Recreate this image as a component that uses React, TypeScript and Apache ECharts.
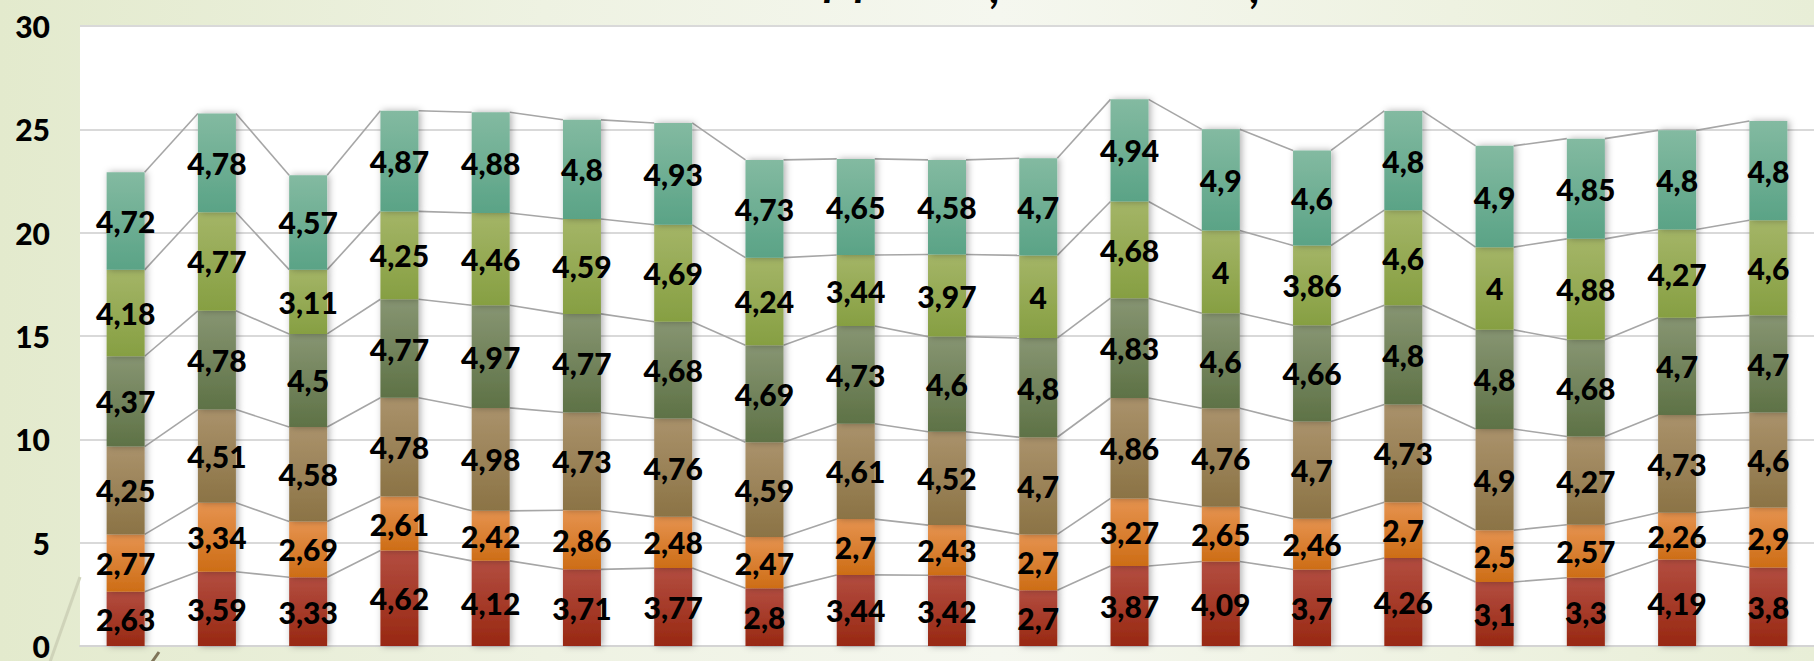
import React, { useEffect, useRef } from "react";
import * as echarts from "echarts";

const categories = ["1","2","3","4","5","6","7","8","9","10","11","12","13","14","15","16","17","18","19"];
const yTicks = [0, 5, 10, 15, 20, 25, 30];

const s1 = [2.63,3.59,3.33,4.62,4.12,3.71,3.77,2.8,3.44,3.42,2.7,3.87,4.09,3.7,4.26,3.1,3.3,4.19,3.8];
const s2 = [2.77,3.34,2.69,2.61,2.42,2.86,2.48,2.47,2.7,2.43,2.7,3.27,2.65,2.46,2.7,2.5,2.57,2.26,2.9];
const s3 = [4.25,4.51,4.58,4.78,4.98,4.73,4.76,4.59,4.61,4.52,4.7,4.86,4.76,4.7,4.73,4.9,4.27,4.73,4.6];
const s4 = [4.37,4.78,4.5,4.77,4.97,4.77,4.68,4.69,4.73,4.6,4.8,4.83,4.6,4.66,4.8,4.8,4.68,4.7,4.7];
const s5 = [4.18,4.77,3.11,4.25,4.46,4.59,4.69,4.24,3.44,3.97,4,4.68,4,3.86,4.6,4,4.88,4.27,4.6];
const s6 = [4.72,4.78,4.57,4.87,4.88,4.8,4.93,4.73,4.65,4.58,4.7,4.94,4.9,4.6,4.8,4.9,4.85,4.8,4.8];

const seriesData = [s1, s2, s3, s4, s5, s6];
const seriesNames = ["Ряд 1", "Ряд 2", "Ряд 3", "Ряд 4", "Ряд 5", "Ряд 6"];
const seriesColors: [string, string][] = [
  ["#b34d40", "#982812"],
  ["#e6934f", "#cd6d16"],
  ["#aa926b", "#8b7345"],
  ["#879572", "#5e7246"],
  ["#a4b567", "#869f42"],
  ["#83baa1", "#5aa386"],
];

const BAR_W = 38;
const FONT = "Lato, 'Open Sans', sans-serif";

export default function App() {
  const ref = useRef<HTMLDivElement>(null);
  useEffect(() => {
    if (!ref.current) return;
    const chart = echarts.init(ref.current, undefined, { renderer: "svg" });

    const cum: number[][] = seriesData.map(() => []);
    for (let i = 0; i < categories.length; i++) {
      let acc = 0;
      for (let k = 0; k < seriesData.length; k++) {
        acc += seriesData[k][i];
        cum[k][i] = Math.round(acc * 100) / 100;
      }
    }
    const lineData: number[][] = [];
    for (let k = 0; k < seriesData.length; k++) {
      for (let i = 0; i < categories.length - 1; i++) {
        lineData.push([i, cum[k][i], cum[k][i + 1]]);
      }
    }

    const bars = seriesData.map((d, k) => ({
      type: "bar",
      name: seriesNames[k],
      stack: "total",
      barWidth: BAR_W,
      z: 3,
      data: d,
      itemStyle: {
        color: new echarts.graphic.LinearGradient(0, 0, 0, 1, [
          { offset: 0, color: seriesColors[k][0] },
          { offset: 1, color: seriesColors[k][1] },
        ]),
        shadowBlur: 7,
        shadowColor: "rgba(0,0,0,0.32)",
        shadowOffsetX: 2,
        shadowOffsetY: 0,
      },
      label: {
        show: true,
        position: "inside",
        color: "#000",
        fontFamily: FONT,
        fontWeight: 900,
        fontSize: 30,
        formatter: (p: any) => String(p.value).replace(".", ","),
      },
    }));

    const option: any = {
      animation: false,
      backgroundColor: "transparent",
      grid: {
        left: 80,
        top: 26,
        width: 1747,
        height: 625,
        show: true,
        backgroundColor: "#ffffff",
        borderWidth: 0,
      },
      xAxis: {
        type: "category",
        data: categories,
        axisLabel: { show: false },
        axisTick: { show: false },
        axisLine: { show: true, lineStyle: { color: "#d4d4d4", width: 2 } },
      },
      yAxis: {
        type: "value",
        min: yTicks[0],
        max: yTicks[yTicks.length - 1],
        interval: 5,
        axisLine: { show: false },
        axisTick: { show: false },
        axisLabel: {
          color: "#000",
          fontFamily: FONT,
          fontWeight: 900,
          fontSize: 30,
          margin: 30,
        },
        splitLine: { lineStyle: { color: "#d9d9d9", width: 2 } },
      },
      graphic: [
        { type: "line", z: 0, shape: { x1: 50, y1: 662, x2: 80, y2: 577 }, style: { stroke: "#cfd3b9", lineWidth: 3 } },
        { type: "line", z: 0, shape: { x1: 152, y1: 662, x2: 159, y2: 652 }, style: { stroke: "#7f7459", lineWidth: 3 } },
        { type: "text", z: 0, x: 824, y: -43, style: { text: "p", font: "italic bold 44px " + FONT, fill: "#000" } },
        { type: "text", z: 0, x: 855, y: -43, style: { text: "p", font: "italic bold 44px " + FONT, fill: "#000" } },
        { type: "text", z: 0, x: 990, y: -36, style: { text: ",", font: "italic bold 44px " + FONT, fill: "#000" } },
        { type: "text", z: 0, x: 1250, y: -36, style: { text: ",", font: "italic bold 44px " + FONT, fill: "#000" } },
      ],
      series: [
        {
          type: "custom",
          name: "lines",
          z: 1,
          silent: true,
          encode: { x: 0, y: 1 },
          data: lineData,
          renderItem: (params: any, api: any) => {
            const i = api.value(0);
            const p1 = api.coord([i, api.value(1)]);
            const p2 = api.coord([i + 1, api.value(2)]);
            const half = BAR_W / 2;
            return {
              type: "line",
              shape: { x1: p1[0] + half, y1: p1[1], x2: p2[0] - half, y2: p2[1] },
              style: { stroke: "#a6a6a6", lineWidth: 1.6 },
            };
          },
        },
        ...bars,
      ],
    };
    chart.setOption(option);
    return () => chart.dispose();
  }, []);

  return (
    <div
      ref={ref}
      style={{
        position: "fixed",
        left: 0,
        top: 0,
        width: 1814,
        height: 661,
        background: "linear-gradient(90deg, #e3eacd 0%, #eef2e2 30%, #f5f7ef 55%, #eef2e1 80%, #e8eed7 100%)",
      }}
    />
  );
}
